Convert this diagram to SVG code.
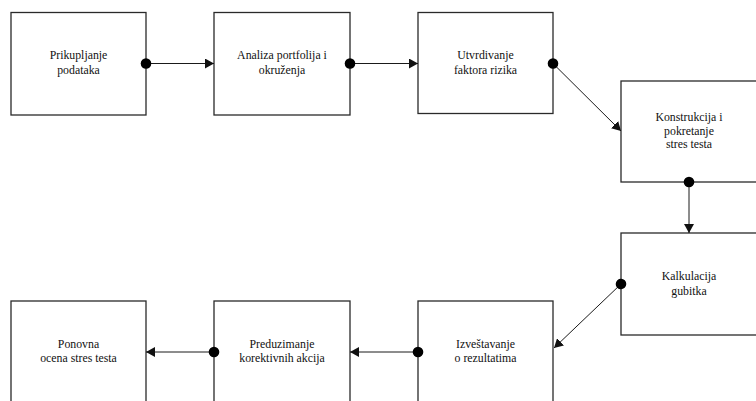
<svg xmlns="http://www.w3.org/2000/svg" width="756" height="401" viewBox="0 0 756 401">
<defs>
<style>
.box{fill:#fff;stroke:#2a2a2a;stroke-width:1.3}
.lbl{font-family:"Liberation Serif","Times New Roman",serif;font-size:11.8px;fill:#111;text-anchor:middle}
.con{stroke:#1a1a1a;stroke-width:1;fill:none;marker-start:url(#dot);marker-end:url(#arr)}
</style>
<marker id="arr" markerUnits="userSpaceOnUse" markerWidth="10" markerHeight="10" refX="9" refY="5" orient="auto">
<path d="M0,0 L9,5 L0,10 Z" fill="#111"/>
</marker>
<marker id="dot" markerUnits="userSpaceOnUse" markerWidth="12" markerHeight="12" refX="6" refY="6" orient="auto">
<circle cx="6" cy="6" r="5.3" fill="#000"/>
</marker>
</defs>
<rect width="756" height="401" fill="#fff"/>
<g id="n1"><rect class="box" x="11" y="12.5" width="135" height="102.5"/><text class="lbl" x="78.5"><tspan x="78.5" y="59">Prikupljanje</tspan><tspan x="78.5" y="73.5">podataka</tspan></text></g>
<g id="n2"><rect class="box" x="214" y="12.5" width="136" height="102.5"/><text class="lbl"><tspan x="282" y="59">Analiza portfolija i</tspan><tspan x="282" y="73.5">okruženja</tspan></text></g>
<g id="n3"><rect class="box" x="418" y="12.5" width="135" height="101"/><text class="lbl"><tspan x="485.5" y="59">Utvrdivanje</tspan><tspan x="485.5" y="73.5">faktora rizika</tspan></text></g>
<g id="n4"><rect class="box" x="621" y="81" width="136" height="101"/><text class="lbl"><tspan x="689" y="121">Konstrukcija i</tspan><tspan x="689" y="134.5">pokretanje</tspan><tspan x="689" y="148">stres testa</tspan></text></g>
<g id="n5"><rect class="box" x="621" y="233" width="136" height="102"/><text class="lbl"><tspan x="689" y="280">Kalkulacija</tspan><tspan x="689" y="294.5">gubitka</tspan></text></g>
<g id="n6"><rect class="box" x="418" y="301" width="135" height="102"/><text class="lbl"><tspan x="485.5" y="347.5">Izveštavanje</tspan><tspan x="485.5" y="362">o rezultatima</tspan></text></g>
<g id="n7"><rect class="box" x="214" y="301" width="136" height="102"/><text class="lbl"><tspan x="282" y="347.5">Preduzimanje</tspan><tspan x="282" y="362">korektivnih akcija</tspan></text></g>
<g id="n8"><rect class="box" x="11" y="301" width="135" height="102"/><text class="lbl"><tspan x="78.5" y="347.5">Ponovna</tspan><tspan x="78.5" y="362">ocena stres testa</tspan></text></g>
<g id="connectors">
<path class="con" d="M146,63.5 L214,63.5"/>
<path class="con" d="M350,63.5 L418,63.5"/>
<path class="con" d="M553,63.5 L621,131"/>
<path class="con" d="M689,182 L689,233"/>
<path class="con" d="M621,284 L554,348"/>
<path class="con" d="M418,352 L350,352"/>
<path class="con" d="M214,352 L146,352"/>
</g>
</svg>
